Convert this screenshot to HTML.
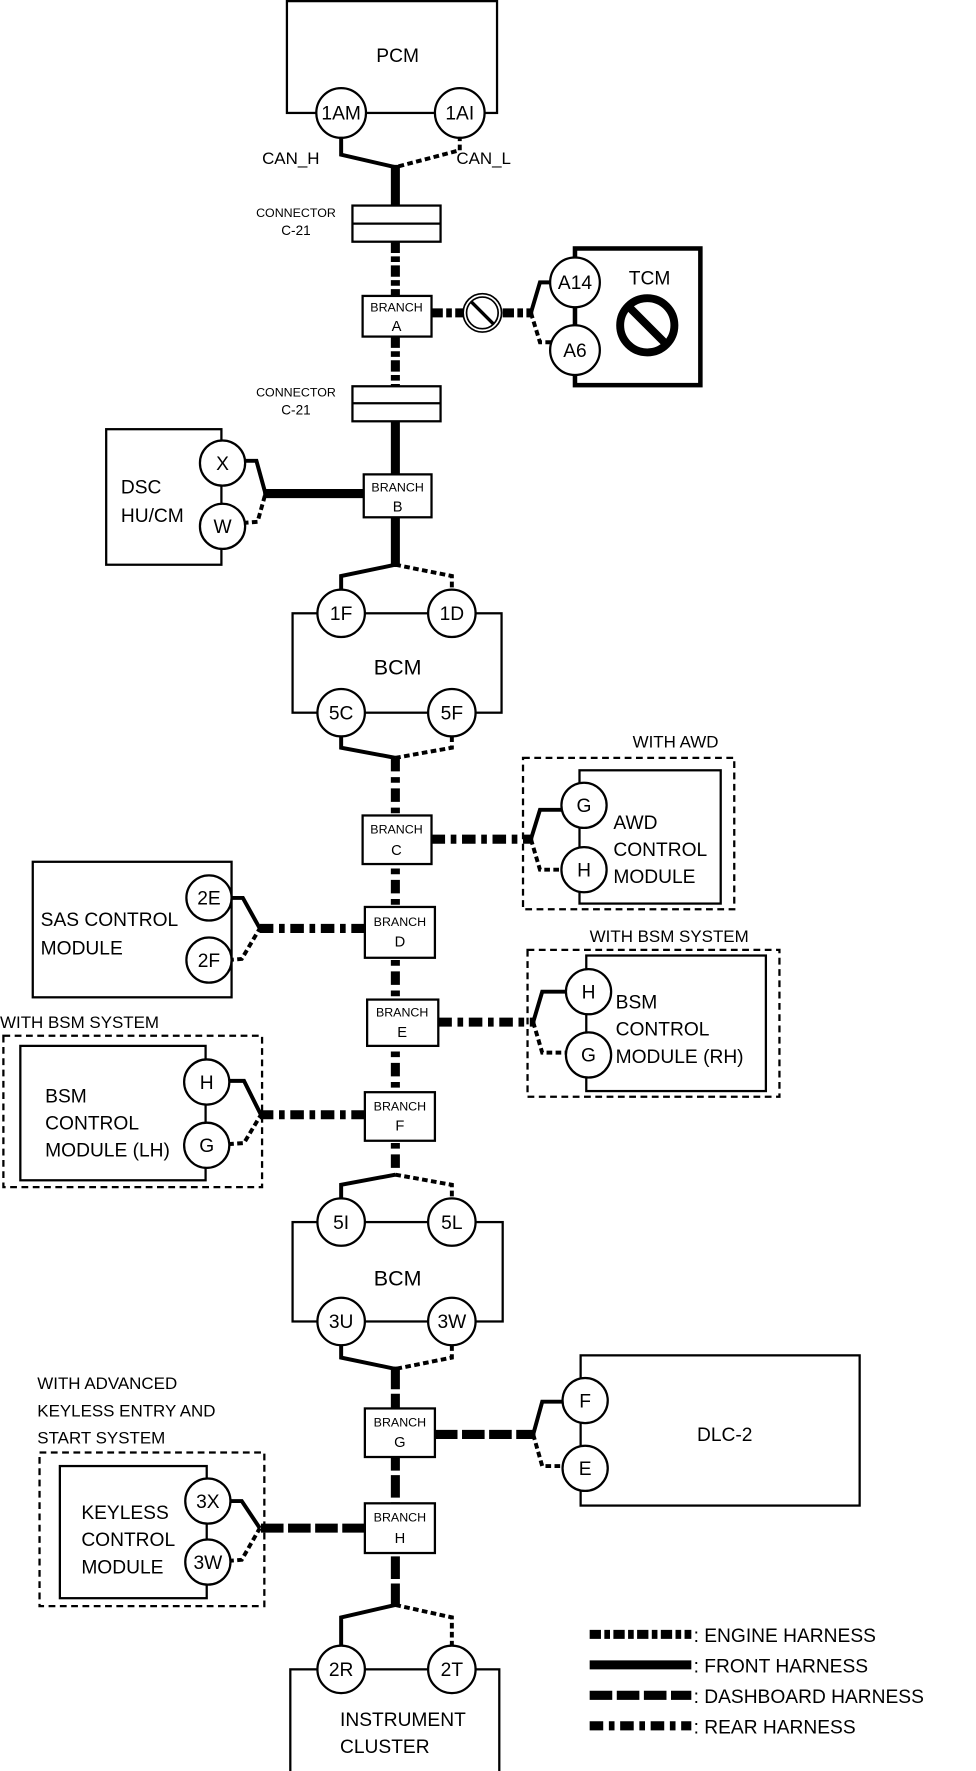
<!DOCTYPE html>
<html><head><meta charset="utf-8"><style>
html,body{margin:0;padding:0;background:#fff;}
svg{display:block;}
text{font-family:"Liberation Sans",sans-serif;fill:#000;}
</style></head><body>
<svg width="976" height="1771" viewBox="0 0 864 1568" preserveAspectRatio="none" xmlns="http://www.w3.org/2000/svg">
<defs>
<style>
.box{fill:none;stroke:#000;stroke-width:2}
.c{fill:#fff;stroke:#000;stroke-width:2}
.ws{fill:none;stroke:#000;stroke-width:3.5;stroke-linejoin:miter}
.wd{fill:none;stroke:#000;stroke-width:3.5;stroke-dasharray:5 3}
.eng{fill:none;stroke:#000;stroke-width:8;stroke-dasharray:10 3 5 3}
.frt{fill:none;stroke:#000;stroke-width:8}
.dsh{fill:none;stroke:#000;stroke-width:8;stroke-dasharray:20 4}
.rear{fill:none;stroke:#000;stroke-width:8;stroke-dasharray:12 5 5 5}
.db{fill:none;stroke:#000;stroke-width:2;stroke-dasharray:6 4}
.br{fill:#fff;stroke:#000;stroke-width:2}
.t{font-size:17px}
.s{font-size:11px}
.m{font-size:13px}
</style>
</defs>

<!-- PCM -->
<rect class="box" x="254" y="1" width="186" height="99"/>
<text class="t" x="352" y="55" text-anchor="middle">PCM</text>
<polyline class="ws" points="302,120 302,137 350,148"/>
<polyline class="wd" points="407,120 407,133 350,148"/>
<circle class="c" cx="302" cy="100" r="22"/><text class="t" x="302" y="106" text-anchor="middle">1AM</text>
<circle class="c" cx="407" cy="100" r="22"/><text class="t" x="407" y="106" text-anchor="middle">1AI</text>
<text class="m" x="232" y="145" style="font-size:15px">CAN_H</text>
<text class="m" x="404" y="145" style="font-size:15px">CAN_L</text>

<!-- trunk top -->
<line class="frt" x1="350" y1="146" x2="350" y2="182"/>
<rect class="br" x="312" y="182" width="78" height="32"/><line x1="312" y1="198" x2="390" y2="198" stroke="#000" stroke-width="2"/>
<text class="s" x="262" y="192" text-anchor="middle">CONNECTOR</text>
<text class="s" x="262" y="208" text-anchor="middle" style="font-size:12px">C-21</text>
<line class="eng" x1="350" y1="214" x2="350" y2="262"/>
<rect class="br" x="321" y="262" width="61" height="36"/>
<text class="s" x="351" y="276" text-anchor="middle">BRANCH</text><text class="m" x="351" y="293" text-anchor="middle">A</text>
<line class="eng" x1="350" y1="298" x2="350" y2="342"/>
<rect class="br" x="312" y="342" width="78" height="31"/><line x1="312" y1="357" x2="390" y2="357" stroke="#000" stroke-width="2"/>
<text class="s" x="262" y="351" text-anchor="middle">CONNECTOR</text>
<text class="s" x="262" y="367" text-anchor="middle" style="font-size:12px">C-21</text>
<line class="frt" x1="350" y1="373" x2="350" y2="420"/>

<!-- TCM -->
<line class="eng" x1="382" y1="277" x2="472" y2="277"/>
<circle cx="427" cy="277" r="17" fill="#fff" stroke="#000" stroke-width="1.5"/>
<circle cx="427" cy="277" r="14" fill="none" stroke="#000" stroke-width="1.5"/>
<line x1="417" y1="267" x2="437" y2="287" stroke="#000" stroke-width="3"/>
<rect x="509" y="220" width="111" height="121" fill="none" stroke="#000" stroke-width="4"/>
<polyline class="ws" points="470,277 478,250 500,250"/>
<polyline class="wd" points="470,277 478,303 500,303"/>
<circle class="c" cx="509" cy="250" r="22"/><text class="t" x="509" y="256" text-anchor="middle">A14</text>
<circle class="c" cx="509" cy="310" r="22"/><text class="t" x="509" y="316" text-anchor="middle">A6</text>
<text class="t" x="575" y="252" text-anchor="middle">TCM</text>
<circle cx="573" cy="288" r="24" fill="none" stroke="#000" stroke-width="7"/>
<line x1="556" y1="271" x2="590" y2="305" stroke="#000" stroke-width="7"/>

<!-- Branch B / DSC -->
<rect class="br" x="322" y="420" width="60" height="38"/>
<text class="s" x="352" y="435" text-anchor="middle">BRANCH</text><text class="m" x="352" y="453" text-anchor="middle">B</text>
<line class="frt" x1="322" y1="437" x2="233" y2="437"/>
<rect class="box" x="94" y="380" width="102" height="120"/>
<polyline class="ws" points="215,408 227,408 235,437"/>
<polyline class="wd" points="215,463 228,462 235,437"/>
<circle class="c" cx="197" cy="410" r="20"/><text class="t" x="197" y="416" text-anchor="middle">X</text>
<circle class="c" cx="197" cy="466" r="20"/><text class="t" x="197" y="472" text-anchor="middle">W</text>
<text class="t" x="107" y="437">DSC</text><text class="t" x="107" y="462">HU/CM</text>

<line class="frt" x1="350" y1="458" x2="350" y2="502"/>
<polyline class="ws" points="350,500 302,510 302,525"/>
<polyline class="wd" points="350,500 400,510 400,525"/>

<!-- BCM 1 -->
<rect class="box" x="259" y="543" width="185" height="88"/>
<circle class="c" cx="302" cy="543" r="21"/><text class="t" x="302" y="549" text-anchor="middle">1F</text>
<circle class="c" cx="400" cy="543" r="21"/><text class="t" x="400" y="549" text-anchor="middle">1D</text>
<circle class="c" cx="302" cy="631" r="21"/><text class="t" x="302" y="637" text-anchor="middle">5C</text>
<circle class="c" cx="400" cy="631" r="21"/><text class="t" x="400" y="637" text-anchor="middle">5F</text>
<text class="t" x="352" y="597" text-anchor="middle" style="font-size:19px">BCM</text>
<polyline class="ws" points="302,652 302,662 350,671"/>
<polyline class="wd" points="400,652 400,662 350,671"/>

<!-- rear trunk -->
<line class="rear" x1="350" y1="671" x2="350" y2="1040"/>
<rect class="br" x="321" y="722" width="61" height="43"/>
<text class="s" x="351" y="738" text-anchor="middle">BRANCH</text><text class="m" x="351" y="757" text-anchor="middle">C</text>
<rect class="br" x="323" y="803" width="62" height="45"/>
<text class="s" x="354" y="820" text-anchor="middle">BRANCH</text><text class="m" x="354" y="838" text-anchor="middle">D</text>
<rect class="br" x="325" y="885" width="63" height="41"/>
<text class="s" x="356" y="900" text-anchor="middle">BRANCH</text><text class="m" x="356" y="918" text-anchor="middle">E</text>
<rect class="br" x="323" y="967" width="62" height="43"/>
<text class="s" x="354" y="983" text-anchor="middle">BRANCH</text><text class="m" x="354" y="1001" text-anchor="middle">F</text>

<!-- AWD -->
<text class="m" x="560" y="662" style="font-size:15px">WITH AWD</text>
<rect class="db" x="463" y="671" width="187" height="134"/>
<rect class="box" x="513" y="682" width="125" height="118"/>
<line class="rear" x1="382" y1="743" x2="472" y2="743"/>
<polyline class="ws" points="470,743 478,717 500,717"/>
<polyline class="wd" points="470,743 478,770 500,770"/>
<circle class="c" cx="517" cy="713" r="20"/><text class="t" x="517" y="719" text-anchor="middle">G</text>
<circle class="c" cx="517" cy="770" r="20"/><text class="t" x="517" y="776" text-anchor="middle">H</text>
<text class="t" x="543" y="734">AWD</text><text class="t" x="543" y="758">CONTROL</text><text class="t" x="543" y="782">MODULE</text>

<!-- SAS -->
<rect class="box" x="29" y="763" width="176" height="120"/>
<line class="rear" x1="323" y1="822" x2="228" y2="822"/>
<polyline class="ws" points="202,795 215,795 230,822"/>
<polyline class="wd" points="202,850 214,849 230,822"/>
<circle class="c" cx="185" cy="795" r="20"/><text class="t" x="185" y="801" text-anchor="middle">2E</text>
<circle class="c" cx="185" cy="850" r="20"/><text class="t" x="185" y="856" text-anchor="middle">2F</text>
<text class="t" x="36" y="820">SAS CONTROL</text><text class="t" x="36" y="845">MODULE</text>

<!-- BSM RH -->
<text class="m" x="522" y="834" style="font-size:15px">WITH BSM SYSTEM</text>
<rect class="db" x="467" y="841" width="223" height="130"/>
<rect class="box" x="519" y="846" width="159" height="120"/>
<line class="rear" x1="388" y1="905" x2="474" y2="905"/>
<polyline class="ws" points="472,905 480,878 502,878"/>
<polyline class="wd" points="472,905 480,932 502,932"/>
<circle class="c" cx="521" cy="878" r="20"/><text class="t" x="521" y="884" text-anchor="middle">H</text>
<circle class="c" cx="521" cy="934" r="20"/><text class="t" x="521" y="940" text-anchor="middle">G</text>
<text class="t" x="545" y="893">BSM</text><text class="t" x="545" y="917">CONTROL</text><text class="t" x="545" y="941">MODULE (RH)</text>

<!-- BSM LH -->
<text class="m" x="0" y="910" style="font-size:15px">WITH BSM SYSTEM</text>
<rect class="db" x="3" y="917" width="229" height="134"/>
<rect class="box" x="18" y="926" width="164" height="119"/>
<line class="rear" x1="323" y1="987" x2="230" y2="987"/>
<polyline class="ws" points="202,957 216,957 231,987"/>
<polyline class="wd" points="202,1013 216,1012 231,987"/>
<circle class="c" cx="183" cy="958" r="20"/><text class="t" x="183" y="964" text-anchor="middle">H</text>
<circle class="c" cx="183" cy="1014" r="20"/><text class="t" x="183" y="1020" text-anchor="middle">G</text>
<text class="t" x="40" y="976">BSM</text><text class="t" x="40" y="1000">CONTROL</text><text class="t" x="40" y="1024">MODULE (LH)</text>

<polyline class="ws" points="350,1040 302,1049 302,1062"/>
<polyline class="wd" points="350,1040 400,1049 400,1062"/>

<!-- BCM 2 -->
<rect class="box" x="259" y="1082" width="186" height="88"/>
<circle class="c" cx="302" cy="1082" r="21"/><text class="t" x="302" y="1088" text-anchor="middle">5I</text>
<circle class="c" cx="400" cy="1082" r="21"/><text class="t" x="400" y="1088" text-anchor="middle">5L</text>
<circle class="c" cx="302" cy="1170" r="21"/><text class="t" x="302" y="1176" text-anchor="middle">3U</text>
<circle class="c" cx="400" cy="1170" r="21"/><text class="t" x="400" y="1176" text-anchor="middle">3W</text>
<text class="t" x="352" y="1138" text-anchor="middle" style="font-size:19px">BCM</text>
<polyline class="ws" points="302,1191 302,1202 350,1212"/>
<polyline class="wd" points="400,1191 400,1202 350,1212"/>

<!-- dashboard trunk -->
<line class="dsh" x1="350" y1="1210" x2="350" y2="1422"/>
<rect class="br" x="323" y="1247" width="62" height="43"/>
<text class="s" x="354" y="1263" text-anchor="middle">BRANCH</text><text class="m" x="354" y="1281" text-anchor="middle">G</text>
<rect class="br" x="323" y="1331" width="62" height="44"/>
<text class="s" x="354" y="1347" text-anchor="middle">BRANCH</text><text class="m" x="354" y="1366" text-anchor="middle">H</text>

<!-- DLC-2 -->
<rect class="box" x="514" y="1200" width="247" height="133"/>
<line class="dsh" x1="385" y1="1270" x2="474" y2="1270"/>
<polyline class="ws" points="472,1270 480,1241 500,1241"/>
<polyline class="wd" points="472,1270 480,1298 500,1298"/>
<circle class="c" cx="518" cy="1240" r="20"/><text class="t" x="518" y="1246" text-anchor="middle">F</text>
<circle class="c" cx="518" cy="1300" r="20"/><text class="t" x="518" y="1306" text-anchor="middle">E</text>
<text class="t" x="617" y="1276">DLC-2</text>

<!-- Keyless -->
<text class="m" x="33" y="1230" style="font-size:15px">WITH ADVANCED</text>
<text class="m" x="33" y="1254" style="font-size:15px">KEYLESS ENTRY  AND</text>
<text class="m" x="33" y="1278" style="font-size:15px">START SYSTEM</text>
<rect class="db" x="35" y="1286" width="199" height="136"/>
<rect class="box" x="53" y="1298" width="130" height="117"/>
<line class="dsh" x1="323" y1="1353" x2="230" y2="1353"/>
<polyline class="ws" points="202,1329 214,1329 230,1353"/>
<polyline class="wd" points="202,1382 214,1381 230,1353"/>
<circle class="c" cx="184" cy="1329" r="20"/><text class="t" x="184" y="1335" text-anchor="middle">3X</text>
<circle class="c" cx="184" cy="1383" r="20"/><text class="t" x="184" y="1389" text-anchor="middle">3W</text>
<text class="t" x="72" y="1345">KEYLESS</text><text class="t" x="72" y="1369">CONTROL</text><text class="t" x="72" y="1393">MODULE</text>

<polyline class="ws" points="350,1421 302,1432 302,1458"/>
<polyline class="wd" points="350,1421 400,1432 400,1458"/>

<!-- Instrument cluster -->
<rect class="box" x="257" y="1478" width="185" height="92"/>
<circle class="c" cx="302" cy="1478" r="21"/><text class="t" x="302" y="1484" text-anchor="middle">2R</text>
<circle class="c" cx="400" cy="1478" r="21"/><text class="t" x="400" y="1484" text-anchor="middle">2T</text>
<text class="t" x="301" y="1528">INSTRUMENT</text><text class="t" x="301" y="1552">CLUSTER</text>

<!-- legend -->
<line class="eng" x1="522" y1="1447" x2="612" y2="1447"/>
<line class="frt" x1="522" y1="1474" x2="612" y2="1474"/>
<line class="dsh" x1="522" y1="1501" x2="612" y2="1501"/>
<line class="rear" x1="522" y1="1528" x2="612" y2="1528"/>
<text class="t" x="614" y="1454">: ENGINE HARNESS</text>
<text class="t" x="614" y="1481">: FRONT HARNESS</text>
<text class="t" x="614" y="1508">: DASHBOARD HARNESS</text>
<text class="t" x="614" y="1535">: REAR HARNESS</text>
</svg>
</body></html>
